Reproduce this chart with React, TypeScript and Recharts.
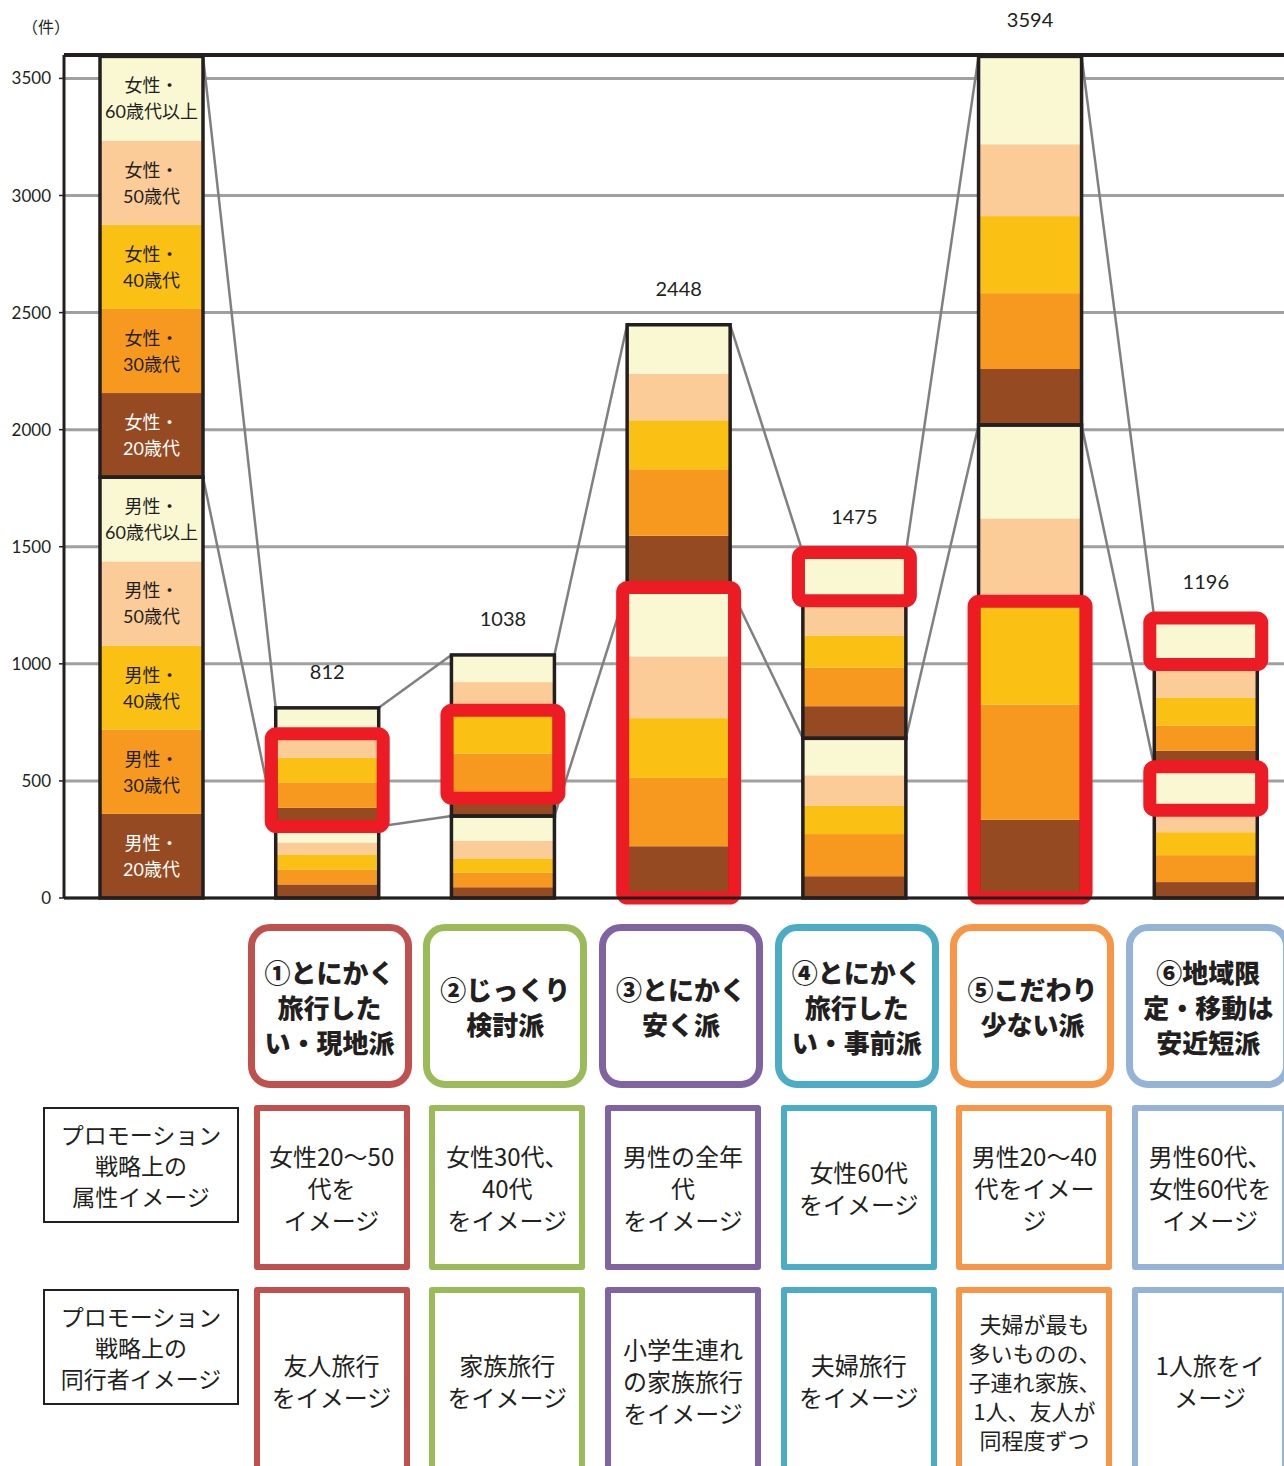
import React from "react";
import * as Recharts from "recharts";
import { BarChart, Bar, XAxis, YAxis, CartesianGrid, ReferenceLine, LabelList } from "recharts";

// 0 = legend bar, 1..6 = traveller types
const categories = ["凡例", "①", "②", "③", "④", "⑤", "⑥"];
const male20 = [359.4, 58, 46, 221, 93, 334, 68];
const male30 = [359.4, 64, 63, 292, 180, 492, 115];
const male40 = [359.4, 64, 60, 255, 122, 441, 98];
const male50 = [359.4, 51, 76, 264, 129, 354, 94];
const male60 = [359.4, 68, 105, 294, 158, 399, 186];
const female20 = [359.4, 80, 76, 221, 137, 239, 68];
const female30 = [359.4, 107, 190, 284, 165, 324, 107];
const female40 = [359.4, 107, 186, 209, 137, 329, 120];
const female50 = [359.4, 102, 120, 199, 148, 307, 141];
const female60 = [359.4, 111, 116, 209, 206, 375, 199];
const totalLabels = [null, 812, 1038, 2448, 1475, 3594, 1196];
const yTicks = [0, 500, 1000, 1500, 2000, 2500, 3000, 3500];

const segKeys = ["m20", "m30", "m40", "m50", "m60", "f20", "f30", "f40", "f50", "f60"];
const ageColors = ["#964A21", "#F7981F", "#FAC014", "#FBCB98", "#FAF8D2"];
const legendLabels = [
  ["男性・", "20歳代"],
  ["男性・", "30歳代"],
  ["男性・", "40歳代"],
  ["男性・", "50歳代"],
  ["男性・", "60歳代以上"],
  ["女性・", "20歳代"],
  ["女性・", "30歳代"],
  ["女性・", "40歳代"],
  ["女性・", "50歳代"],
  ["女性・", "60歳代以上"],
];

// segment ranges outlined in red, per category
const highlights: string[][][] = [
  [],
  [["f20", "f50"]],
  [["f30", "f40"]],
  [["m20", "m60"]],
  [["f60", "f60"]],
  [["m20", "m40"]],
  [["f60", "f60"], ["m60", "m60"]],
];

const typeNames = [
  "①とにかく\n旅行した\nい・現地派",
  "②じっくり\n検討派",
  "③とにかく\n安く派",
  "④とにかく\n旅行した\nい・事前派",
  "⑤こだわり\n少ない派",
  "⑥地域限\n定・移動は\n安近短派",
];
const typeColors = ["#C0504D", "#9BBB59", "#8064A2", "#4BACC6", "#F79646", "#95B3D7"];
const attrImages = [
  "女性20～50\n代を\nイメージ",
  "女性30代、\n40代\nをイメージ",
  "男性の全年\n代\nをイメージ",
  "女性60代\nをイメージ",
  "男性20～40\n代をイメー\nジ",
  "男性60代、\n女性60代を\nイメージ",
];
const companionImages = [
  "友人旅行\nをイメージ",
  "家族旅行\nをイメージ",
  "小学生連れ\nの家族旅行\nをイメージ",
  "夫婦旅行\nをイメージ",
  "夫婦が最も\n多いものの、\n子連れ家族、\n1人、友人が\n同程度ずつ",
  "1人旅をイ\nメージ",
];
const rowLabels = ["プロモーション\n戦略上の\n属性イメージ", "プロモーション\n戦略上の\n同行者イメージ"];

const series = [male20, male30, male40, male50, male60, female20, female30, female40, female50, female60];
const data = categories.map((name, i) => {
  const row: any = { name, label: totalLabels[i] };
  segKeys.forEach((k, j) => (row[k] = series[j][i]));
  return row;
});

const FONT = "Lato, 'Noto Sans CJK JP', sans-serif";
const JP = "'Noto Sans CJK JP', sans-serif";
const CHART_W = 1294;
const CHART_H = 910;
const MARGIN = { top: 55, right: 0, bottom: 10, left: 8 };
const YAXIS_W = 56;
const PLOT_LEFT = MARGIN.left + YAXIS_W;
const BAND = (CHART_W - PLOT_LEFT - MARGIN.right) / categories.length;

const usePlotAreaSafe: () => any = (Recharts as any).usePlotArea ?? (() => undefined);

const stackSum = (row: any, n: number) => segKeys.slice(0, n).reduce((s, k) => s + row[k], 0);

const Overlay = ({ x, y, width, height, index }: any) => {
  const plot = usePlotAreaSafe();
  const band = plot && plot.width ? plot.width / data.length : BAND;
  const row = data[index];
  const k = height / row.f60;
  const y0 = y + stackSum(row, segKeys.length) * k;
  const yOf = (r: any, n: number) => y0 - stackSum(r, n) * k;
  const yMid = yOf(row, 5);
  const next = data[index + 1];
  return (
    <g>
      {next && (
        <g stroke="#808080" strokeWidth={2.5}>
          <line x1={x + width} y1={y} x2={x + band} y2={yOf(next, 10)} />
          <line x1={x + width} y1={yMid} x2={x + band} y2={yOf(next, 5)} />
        </g>
      )}
      <g fill="none" stroke="#231f20" strokeWidth={3.5}>
        <rect x={x} y={y} width={width} height={yMid - y} />
        <rect x={x} y={yMid} width={width} height={y0 - yMid} />
      </g>
      {highlights[index].map(([a, b], j) => {
        const yb = yOf(row, segKeys.indexOf(a));
        const yt = yOf(row, segKeys.indexOf(b) + 1);
        return (
          <rect key={j} x={x - 4.5} y={yt} width={width + 9} height={yb - yt} rx={5}
            fill="none" stroke="#ED1C24" strokeWidth={13} />
        );
      })}
    </g>
  );
};

const Segment = (props: any) => {
  const { x, y, width, height, index, segIdx } = props;
  const ageIdx = segIdx % 5;
  const lines = legendLabels[segIdx];
  const cx = x + width / 2;
  const cy = y + height / 2;
  const color = ageIdx === 0 ? "#ffffff" : "#231f20";
  return (
    <g>
      <rect x={x} y={y} width={width} height={height} fill={ageColors[ageIdx]} />
      {index === 0 && (
        <g fontSize={18} fill={color} fontFamily={FONT} textAnchor="middle">
          <text x={cx} y={cy - 13} dominantBaseline="central">{lines[0]}</text>
          <text x={cx} y={cy + 13} dominantBaseline="central">{lines[1]}</text>
        </g>
      )}
      {segIdx === segKeys.length - 1 && (
        <Overlay x={x} y={y} width={width} height={height} index={index} />
      )}
    </g>
  );
};

const colCenter = (i: number) => PLOT_LEFT + (i + 1.5) * BAND;

const boxText = {
  display: "flex",
  alignItems: "center",
  justifyContent: "center",
  textAlign: "center" as const,
  whiteSpace: "pre-line" as const,
  boxSizing: "border-box" as const,
  position: "absolute" as const,
  color: "#231f20",
  fontFamily: JP,
  background: "#fff",
};

const App = () => {
  return (
    <div style={{ position: "fixed", top: 0, left: 0, width: 1284, height: 1466, overflow: "hidden", background: "#fff", fontFamily: FONT }}>
      <div style={{ position: "absolute", left: 22, top: 14, fontSize: 16, color: "#231f20", fontFamily: JP }}>（件）</div>
      <div style={{ position: "absolute", left: 0, top: 0 }}>
        <BarChart width={CHART_W} height={CHART_H} data={data} margin={MARGIN} barSize={103}>
          <CartesianGrid vertical={false} stroke="#a0a0a0" strokeWidth={3} />
          <XAxis dataKey="name" tick={false} tickLine={false} height={2}
            axisLine={{ stroke: "#231f20", strokeWidth: 3 }} />
          <YAxis domain={[0, 3600]} ticks={yTicks} width={YAXIS_W} tickSize={5} tickMargin={8}
            axisLine={{ stroke: "#231f20", strokeWidth: 3 }} tickLine={{ stroke: "#231f20", strokeWidth: 1.5 }}
            tick={{ fontSize: 17, fill: "#231f20", fontFamily: FONT }} />
          <ReferenceLine y={3600} stroke="#231f20" strokeWidth={4} />
          {segKeys.map((k, j) => (
            <Bar key={k} dataKey={k} stackId="a" isAnimationActive={false}
              shape={(p: any) => <Segment {...p} segIdx={j} />}>
              {j === segKeys.length - 1 && (
                <LabelList dataKey="label" position="top" offset={29} fontSize={20} fill="#231f20" fontFamily={FONT} />
              )}
            </Bar>
          ))}
        </BarChart>
      </div>

      {typeNames.map((t, i) => (
        <div key={t} style={{ ...boxText, left: colCenter(i) + 2 - 82, top: 924, width: 164, height: 164,
          border: `7px solid ${typeColors[i]}`, borderRadius: 22, fontSize: 26, fontWeight: 900, lineHeight: "35px" }}>
          {t}
        </div>
      ))}

      {rowLabels.map((t, r) => (
        <div key={t} style={{ ...boxText, left: 43, top: r === 0 ? 1107 : 1289, width: 196, height: 116,
          border: "2px solid #231f20", fontSize: 23, lineHeight: "31px" }}>
          {t}
        </div>
      ))}

      {attrImages.map((t, i) => (
        <div key={t} style={{ ...boxText, left: colCenter(i) + 4 - 78, top: 1105, width: 156, height: 165,
          border: `6px solid ${typeColors[i]}`, borderRadius: 3, fontSize: 24, lineHeight: "32px" }}>
          {t}
        </div>
      ))}

      {companionImages.map((t, i) => (
        <div key={t} style={{ ...boxText, left: colCenter(i) + 4 - 78, top: 1287, width: 156, height: 188,
          border: `6px solid ${typeColors[i]}`, borderRadius: 3,
          fontSize: i === 4 ? 22 : 24, lineHeight: i === 4 ? "29px" : "32px" }}>
          {t}
        </div>
      ))}
    </div>
  );
};

export default App;
